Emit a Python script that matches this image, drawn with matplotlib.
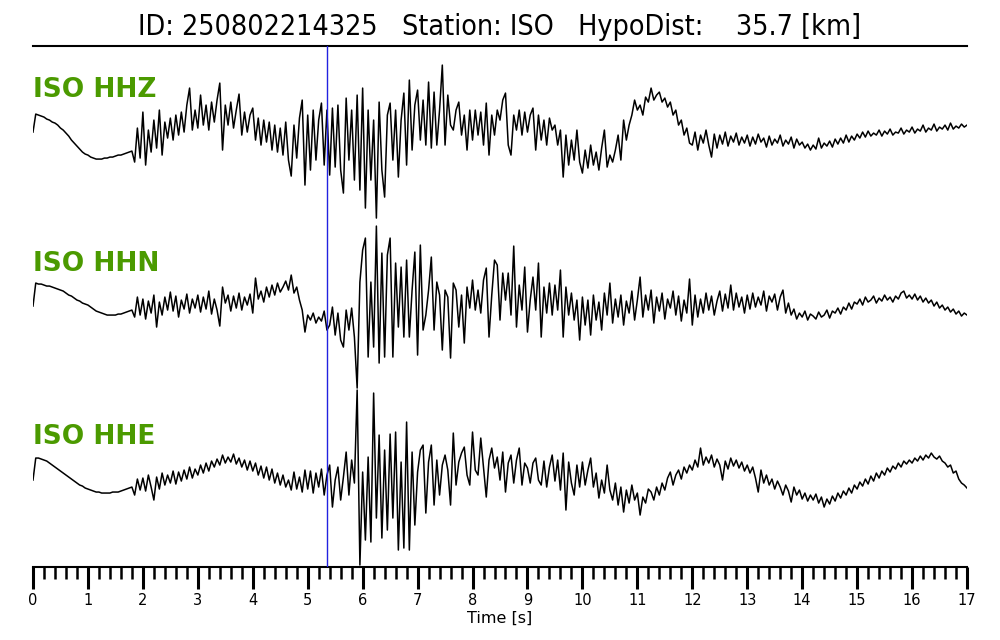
import numpy as np
import matplotlib
matplotlib.use("Agg")
import matplotlib.pyplot as plt
from matplotlib.ticker import MultipleLocator

title = "ID: 250802214325   Station: ISO   HypoDist:    35.7 [km]"
channels = ["ISO HHZ", "ISO HHN", "ISO HHE"]
pick_time = 5.35
dt = 0.05  # sample spacing of the values below [s]

# amplitudes (one row per second, 20 samples each)
hhz = [
    8, 26, 25, 24, 23, 21, 20, 18, 17, 15, 12, 10, 7, 4, 0, -3, -6, -9, -12, -14,
    -15, -17, -18, -19, -19, -19, -18, -18, -17, -17, -16, -15, -15, -14, -13, -12, -11, -22, 12, -18,
    28, -25, 10, -12, 20, -8, 30, -15, 18, 2, 22, 0, 25, 5, 28, 8, 35, 52, 10, 30,
    12, 45, 15, 35, 10, 38, 18, 40, 57, -10, 35, 15, 38, 12, 30, 46, 5, 28, 8, 25,
    32, 0, 22, -5, 20, -2, 18, -10, 15, -12, 12, -15, 18, -20, -36, 15, -18, 22, 40, -45,
    25, -30, 30, -20, 20, 37, -25, 30, -35, 32, -27, 35, -30, -53, 42, -20, 30, -40, 45, -50,
    52, -68, 30, -40, 20, -78, 38, -30, -57, 25, 37, -20, 30, -37, 20, 47, -25, 60, -10, 35,
    50, 0, 40, -5, 58, -8, 48, -5, 30, 75, -5, 45, 15, 10, 30, 38, 5, 25, -10, 30,
    0, 30, 5, 28, -5, 37, -15, 25, 5, 30, 20, 40, 47, -5, -15, 25, 10, 30, 5, 28,
    8, 25, 32, -10, 25, 0, 20, -5, 22, 10, 15, -5, 10, -37, 5, -25, 0, -20, 10, -22,
    -33, -10, -28, -5, -25, -12, -30, -8, 10, -27, -15, -22, -10, 5, -20, 20, 0, 15, 25, 40,
    30, 35, 25, 43, 38, 52, 40, 45, 48, 38, 42, 33, 38, 25, 30, 15, 20, 5, 12, -3,
    -5, 8, -10, 5, -3, 10, -5, -17, 6, -8, 5, -4, 8, -6, 4, -2, 7, -5, 3, -3,
    5, -6, 3, -4, 6, -2, 2, -7, 4, -5, 1, -3, 5, -6, 0, -4, 3, -8, 1, -5,
    -2, -8, -4, -10, -5, -9, 2, -8, -3, -6, -1, -7, 1, -4, 2, -3, 5, -2, 4, 0,
    6, 2, 8, 3, 9, 4, 7, 5, 10, 4, 9, 6, 11, 5, 8, 7, 12, 6, 10, 8,
    13, 7, 11, 9, 15, 8, 12, 10, 16, 9, 13, 11, 15, 10, 17, 11, 14, 12, 16, 13,
    15,
]

hhn = [
    -1, 22, 21, 21, 20, 19, 19, 18, 17, 16, 15, 14, 12, 10, 9, 7, 5, 4, 2, 1,
    0, -2, -4, -6, -7, -8, -9, -10, -10, -10, -10, -9, -9, -8, -7, -6, -5, -12, 8, -10,
    6, -14, 4, -8, 10, -22, 3, -10, 8, -5, 13, -6, 9, -12, 5, -4, 11, -8, 6, -3,
    10, -7, 8, -4, 14, -9, 6, -5, -21, 18, 2, 10, -6, 9, -3, 12, -5, 8, 0, 11,
    -8, 27, 6, 14, 3, 18, 8, 20, 10, 22, 13, 18, 24, 15, 30, 12, 18, 5, -5, -27,
    -10, -15, -8, -18, -12, -16, -6, -25, -20, -2, -30, -8, -35, -42, -5, -25, -3, -32, -83, 23,
    55, 67, -52, 23, -42, 79, -58, 52, -52, 50, 67, -52, 42, -22, 38, -32, 45, -32, 15, 53,
    -50, 60, -25, -10, 15, 48, -25, 23, 10, -45, 15, 8, -53, 22, 15, -22, 10, -38, 18, -3,
    25, -5, 15, -8, 25, 37, -32, 10, 45, 40, -15, 32, 5, 32, -10, 59, -22, 20, -5, 38,
    -27, 5, 28, -5, 42, -32, 18, -8, 22, -10, 20, -5, 35, -32, 18, -10, 12, -15, 5, -35,
    8, -20, 5, -30, 10, -15, 3, -25, 12, -10, 22, -18, 6, -12, 10, -20, 4, -8, 14, -15,
    5, 28, -12, 10, -5, 15, -18, 8, -6, 12, -14, 6, -3, 14, -10, 9, -16, 5, -8, 26,
    -20, 10, -12, 6, -8, 12, -5, 9, -10, 4, 14, -6, 11, -3, 20, -5, 12, -2, 8, -8,
    10, -4, 12, -2, 8, 0, 14, -6, 9, 3, 11, -5, 8, 15, -8, 2, -10, -4, -14, -8,
    -12, -6, -15, -9, -11, -14, -7, -12, -10, -5, -13, -6, -8, -3, -9, -2, -5, 2, -4, 3,
    1, 6, 0, 8, 3, 5, 9, 2, 7, 4, 10, 5, 8, 3, 9, 6, 12, 14, 7, 10,
    6, 11, 5, 9, 3, 7, 2, 5, -1, 3, -3, 0, -5, -2, -7, -4, -9, -6, -11, -8,
    -10,
]

hhe = [
    -5, 17, 17, 16, 15, 14, 12, 10, 8, 6, 4, 2, 0, -2, -4, -6, -8, -10, -11, -13,
    -14, -15, -16, -17, -17, -18, -18, -18, -18, -17, -17, -17, -16, -15, -14, -13, -12, -20, -4, -15,
    -3, -16, 0, -12, -25, -2, -14, 2, -10, 0, -8, 4, -9, 3, -6, 5, -4, 8, -3, 6,
    0, 10, 2, 12, 4, 14, 8, 16, 10, 20, 12, 18, 13, 21, 11, 17, 8, 15, 5, 14,
    4, 12, 0, 9, -3, 8, -5, 6, -8, 2, -10, 0, -12, -5, -15, 3, -14, -2, -17, 5,
    -14, 4, -18, 2, -12, 6, -20, 0, 10, -32, -5, 8, -25, -2, 23, -20, 15, -8, 85, -90,
    3, -65, 18, -67, 82, -43, 40, -63, 25, -55, 41, -43, 43, -75, 13, -73, 53, -75, 23, -50,
    3, 25, 30, -38, 13, 30, -30, 15, -20, 10, 20, 5, -30, 42, -10, 13, 22, 28, 0, -10,
    43, 5, 0, 37, 7, -22, 15, 27, 7, 18, -5, 23, -17, 12, 20, -8, 15, 27, -10, 12,
    7, -8, 12, 17, -5, -10, 14, -12, 8, 20, -6, 15, -15, 22, -35, 13, -8, -20, 10, -12,
    13, -10, 5, 17, -12, 2, -23, -5, -18, 10, -15, -25, -8, -30, -12, -37, -15, -28, -10, -25,
    -18, -40, -22, -28, -14, -17, -25, -12, -20, -8, -15, -3, 3, -10, 0, 5, -4, 8, 2, 10,
    5, 15, 8, 27, 10, 18, 12, 20, 8, 16, 10, -5, 14, 6, 17, 9, 15, 7, 13, 4,
    10, 2, 8, -3, -17, 5, -8, 0, -10, -4, -14, -6, -12, -20, -10, -16, -27, -12, -20, -15,
    -24, -18, -26, -20, -25, -19, -28, -22, -32, -24, -29, -21, -26, -18, -23, -16, -20, -13, -18, -10,
    -14, -7, -11, -4, -9, -1, -6, 2, -3, 4, 0, 7, 3, 9, 6, 12, 8, 14, 11, 15,
    12, 17, 14, 19, 15, 20, 17, 22, 18, 16, 19, 14, 12, 8, 10, 2, 4, -4, -8, -10,
    -13,
]

traces = [hhz, hhn, hhe]

# layout (vertical placement of each trace / label inside the panel)
offsets = [427, 262, 92]
label_y = [477, 303, 130]
label_color = "#4b9a00"

fig = plt.figure(figsize=(10, 6.4), dpi=100)
ax = fig.add_axes([0.033, 0.114, 0.934, 0.814])

for trace, off, name, ly in zip(traces, offsets, channels, label_y):
    t = np.arange(len(trace)) * dt
    ax.plot(t, np.asarray(trace, dtype=float) + off, color="black", lw=1.1, zorder=2)
    ax.text(0.0, ly, name, color=label_color, fontsize=19, fontweight="bold",
            ha="left", va="center", zorder=4)

ax.axvline(pick_time, color="#2222e0", lw=1.0, zorder=3)

ax.set_xlim(0, 17)
ax.set_ylim(0, 521)
ax.set_yticks([])
for side in ("left", "right"):
    ax.spines[side].set_visible(False)
ax.spines["top"].set_linewidth(1.5)
ax.spines["bottom"].set_linewidth(1.5)

ax.xaxis.set_major_locator(MultipleLocator(1))
ax.xaxis.set_minor_locator(MultipleLocator(0.2))
ax.tick_params(axis="x", which="major", direction="out", length=16, width=2.2,
               labelsize=10.5, pad=3)
ax.tick_params(axis="x", which="minor", direction="out", length=8.5, width=1.8)
ax.set_xlabel("Time [s]", fontsize=11.5, labelpad=2)

fig.text(0.5, 0.958, title, ha="center", va="center", fontsize=20.5,
         fontstretch="condensed")

fig.savefig("out.png", dpi=100)
